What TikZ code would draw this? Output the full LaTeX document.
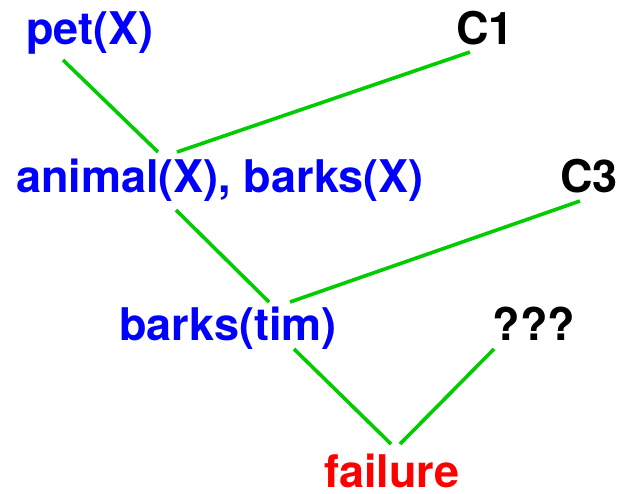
\documentclass[tikz,border=0pt]{standalone}
\usepackage{fontspec}
\setmainfont{TeX Gyre Heros}
\usetikzlibrary{positioning}
\definecolor{goalC}{HTML}{0000FF}
\definecolor{clauseC}{HTML}{000000}
\definecolor{failC}{HTML}{FF0000}
\definecolor{edgeC}{HTML}{00CC00}
\tikzset{
  lbl/.style={anchor=base,inner sep=0pt,font=\fontsize{45}{50}\selectfont\bfseries},
  goal/.style={lbl,text=goalC},
  clause/.style={lbl,text=clauseC},
  edge/.style={edgeC,line width=3.6pt}
}

\begin{document}
\begin{tikzpicture}[x=1pt,y=-1pt]
  \useasboundingbox (0,0) rectangle (632,493);

  % goals and clauses
  \node[goal] (pet) at (90,44) {pet(X)};
  \node[clause] (c1) at (485,44) {C1};
  \node[goal] (animal) at (220,192) {animal(X), barks(X)};
  \node[clause] (c3) at (589,192) {C3};
  \node[goal] (barks) at (228,340) {barks(tim)};
  \node[clause] (unk) at (534,340) {???};
  \node[lbl,text=failC] (fail) at (392,487) {failure};

  % branch end points
  \coordinate (petE) at (63,60);
  \coordinate (c1E) at (470,52);
  \coordinate (anTop1) at (158,152);
  \coordinate (anTop2) at (177,152);
  \coordinate (anBot) at (176,210);
  \coordinate (c3E) at (580,201);
  \coordinate (bkTop1) at (269,302);
  \coordinate (bkTop2) at (290,302);
  \coordinate (bkBot) at (294,349);
  \coordinate (unkE) at (494,349);
  \coordinate (fTop1) at (391,444);
  \coordinate (fTop2) at (400,444);

  % resolution steps
  \draw[edge] (petE) -- (anTop1);
  \draw[edge] (c1E) -- (anTop2);
  \draw[edge] (anBot) -- (bkTop1);
  \draw[edge] (c3E) -- (bkTop2);
  \draw[edge] (bkBot) -- (fTop1);
  \draw[edge] (unkE) -- (fTop2);
\end{tikzpicture}
\end{document}
